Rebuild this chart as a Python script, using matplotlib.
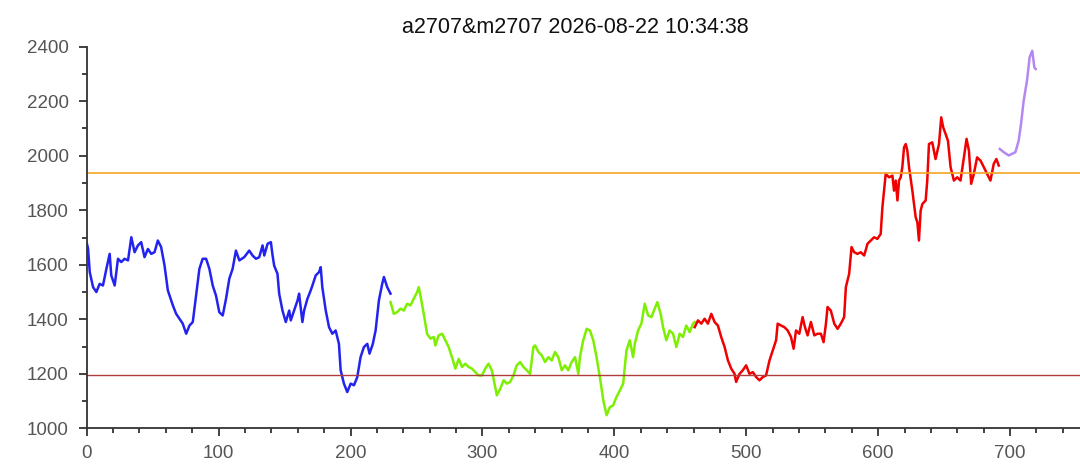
import matplotlib
matplotlib.use("Agg")
import matplotlib.pyplot as plt
from matplotlib.ticker import MultipleLocator

plt.rcParams['font.family'] = ['Liberation Sans', 'DejaVu Sans']

title = "a2707&m2707 2026-08-22 10:34:38"

blue_x = [0, 1.0, 2.3, 4.8, 7.3, 9.8, 12.3, 14.9, 17.4, 18.6, 21.2, 23.7, 26.2, 28.7, 31.3, 33.8,
          36.3, 38.8, 41.3, 43.8, 46.4, 48.9, 51.4, 53.9, 56.4, 59.0, 61.5, 65.3, 67.8, 70.3, 72.8,
          75.4, 77.9, 80.4, 82.9, 85.4, 87.9, 90.5, 93.0, 95.5, 98.0, 100.5, 103.1, 105.6, 108.1,
          110.6, 113.1, 115.7, 119.4, 123.2, 125.7, 128.3, 130.8, 133.3, 134.6, 137.1, 139.6,
          140.9, 142.1, 144.6, 145.9, 148.4, 150.9, 153.5, 154.7, 157.2, 159.8, 161.0, 163.5,
          164.8, 167.3, 169.8, 171.1, 173.6, 176.1, 177.4, 178.6, 181.2, 183.7, 186.2, 188.7,
          191.2, 192.5, 195.0, 197.5, 200.1, 202.6, 205.1, 207.6, 210.1, 212.7, 214.4, 216.9,
          219.0, 221.5, 224.0, 225.3, 227.8, 230.3]
blue_y = [1680, 1660, 1573, 1518, 1500, 1530, 1524, 1585, 1640, 1561, 1524, 1622, 1610, 1622, 1616, 1701,
          1646, 1671, 1683, 1628, 1658, 1640, 1646, 1689, 1665, 1597, 1506, 1451, 1420, 1402, 1384,
          1347, 1377, 1390, 1487, 1585, 1622, 1622, 1585, 1524, 1487, 1426, 1414, 1475, 1549,
          1585, 1652, 1616, 1628, 1652, 1634, 1622, 1628, 1671, 1634, 1677, 1683,
          1634, 1597, 1567, 1494, 1432, 1390, 1432, 1396, 1432, 1469, 1494, 1390,
          1432, 1475, 1506, 1524, 1561, 1573, 1591, 1518, 1432, 1371, 1347, 1359,
          1310, 1213, 1164, 1133, 1164, 1158, 1188, 1261, 1298, 1310, 1274, 1310,
          1359, 1469, 1530, 1555, 1518, 1494]

green_x = [230.3, 232.8, 235.3, 237.9, 240.4, 242.9, 245.4, 247.9, 250.5, 251.7, 253.0, 255.5, 258.0,
           260.6, 263.1, 264.3, 266.8, 269.4, 271.9, 274.4, 276.9, 279.5, 282.0, 284.5, 287.0,
           289.5, 292.0, 294.6, 297.1, 299.6, 302.1, 304.6, 307.1, 309.7, 310.9, 313.5, 316.0,
           318.5, 321.0, 323.5, 326.0, 328.6, 331.1, 333.6, 336.1, 338.6, 339.9, 342.4, 344.9,
           347.5, 350.0, 352.5, 355.0, 357.5, 360.1, 362.6, 365.1, 367.6, 370.2, 372.7, 373.9,
           376.4, 379.0, 381.5, 384.0, 386.5, 389.0, 391.6, 394.1, 396.6, 399.1, 401.6, 404.2,
           406.7, 407.9, 409.2, 411.7, 414.2, 415.5, 418.0, 420.5, 423.0, 425.6, 428.1, 430.6,
           432.6, 435.1, 436.9, 439.4, 441.9, 444.5, 447.0, 449.5, 452.0, 454.5, 457.1, 459.6, 460.9]
green_y = [1463, 1420, 1426, 1439, 1432, 1457, 1451, 1475, 1500, 1518, 1487, 1420, 1347,
           1329, 1335, 1304, 1341, 1347, 1323, 1298, 1261, 1219, 1255, 1225, 1237,
           1225, 1219, 1206, 1194, 1194, 1219, 1237, 1213, 1151, 1121, 1145, 1176,
           1164, 1170, 1194, 1231, 1243, 1225, 1213, 1200, 1298, 1304, 1280, 1268,
           1243, 1261, 1249, 1280, 1261, 1213, 1231, 1213, 1243, 1261, 1200, 1261,
           1323, 1365, 1359, 1323, 1261, 1188, 1103, 1048, 1078, 1084, 1115, 1139,
           1164, 1225, 1286, 1323, 1261, 1310, 1359, 1384, 1457, 1414, 1408, 1439,
           1463, 1420, 1371, 1323, 1359, 1347, 1298, 1347, 1335, 1377, 1353, 1384, 1390]

red_x = [460.9, 463.4, 465.9, 468.4, 470.9, 473.5, 476.0, 478.5, 481.0, 483.6, 486.1, 488.6, 491.1,
         492.3, 494.9, 497.4, 499.9, 502.4, 505.0, 507.5, 510.0, 512.5, 515.0, 517.6, 520.1,
         522.6, 523.8, 526.4, 528.9, 531.4, 533.9, 535.9, 537.7, 540.2, 542.7, 544.5, 546.5,
         549.0, 551.6, 554.1, 556.6, 558.6, 560.4, 561.6, 564.1, 566.7, 569.2, 571.7, 574.2,
         575.5, 578.0, 579.8, 581.8, 584.3, 586.8, 589.4, 591.9, 594.4, 596.9, 599.4, 601.9,
         603.2, 605.7, 608.3, 610.8, 612.0, 613.3, 614.6, 615.8, 617.1, 618.3, 619.6, 620.9,
         622.1, 623.4, 625.9, 628.4, 629.7, 630.9, 632.2, 633.5, 636.0, 637.2, 638.5, 641.0,
         643.5, 646.1, 647.8, 649.3, 651.1, 652.9, 654.9, 657.4, 659.9, 662.4, 665.0, 667.0,
         668.8, 670.5, 672.5, 675.0, 677.6, 680.1, 682.6, 685.1, 687.6, 689.6, 691.4]
red_y = [1371, 1396, 1384, 1402, 1384, 1420, 1390, 1377, 1335, 1298, 1249, 1219, 1200,
         1170, 1200, 1213, 1231, 1200, 1206, 1188, 1176, 1188, 1194, 1249, 1286,
         1323, 1384, 1377, 1371, 1359, 1335, 1292, 1359, 1347, 1408, 1371, 1341,
         1390, 1341, 1347, 1347, 1316, 1384, 1445, 1432, 1384, 1365, 1384, 1408,
         1518, 1567, 1665, 1646, 1640, 1646, 1634, 1677, 1689, 1701, 1695, 1713,
         1811, 1933, 1921, 1927, 1872, 1909, 1836, 1909, 1921, 1958, 2031, 2043,
         2019, 1958, 1872, 1775, 1756, 1689, 1799, 1823, 1836, 1909, 2043, 2049,
         1988, 2043, 2141, 2104, 2080, 2055, 1958, 1909, 1921, 1909, 1994, 2062,
         2019, 1897, 1933, 1994, 1982, 1958, 1933, 1909, 1970, 1988, 1964]

purple_x = [692.2, 695.2, 699.0, 701.5, 704.0, 706.5, 708.3, 710.3, 712.8, 714.8, 716.8, 718.4, 719.4]
purple_y = [2025, 2013, 2001, 2007, 2013, 2055, 2117, 2202, 2275, 2361, 2385, 2324, 2318]

upper_level = 1935
lower_level = 1197

fig = plt.figure(figsize=(10.8, 4.7), dpi=100)
ax = fig.add_axes([0.0803, 0.0887, 0.9197, 0.8119])

lw = 1.8
ax.plot(blue_x, blue_y, color='#2323F0', lw=lw)
ax.plot(green_x, green_y, color='#7CF000', lw=lw)
ax.plot(red_x, red_y, color='#F00000', lw=lw)
ax.plot(purple_x, purple_y, color='#B488F2', lw=lw)

ax.axhline(upper_level, color='#F5A623', lw=1.2)
ax.axhline(lower_level, color='#B03C3C', lw=1.0)

ax.set_xlim(0, 753)
ax.set_ylim(1000, 2400)
ax.xaxis.set_major_locator(MultipleLocator(100))
ax.xaxis.set_minor_locator(MultipleLocator(20))
ax.yaxis.set_major_locator(MultipleLocator(200))
ax.yaxis.set_minor_locator(MultipleLocator(100))

for s in ['top', 'right']:
    ax.spines[s].set_visible(False)
for s in ['left', 'bottom']:
    ax.spines[s].set_color('#333333')
    ax.spines[s].set_linewidth(1.3)

ax.tick_params(which='major', length=6, width=1.3, color='#333333', labelsize=13.5,
               labelcolor='#555555')
ax.tick_params(which='minor', length=3.5, width=1.3, color='#333333')
ax.tick_params(axis='x', pad=6)
ax.tick_params(axis='y', pad=7)

ax.set_title(title, fontsize=15.5, color='#111111', pad=10, x=0.4916)

fig.savefig('out.png', dpi=100)
